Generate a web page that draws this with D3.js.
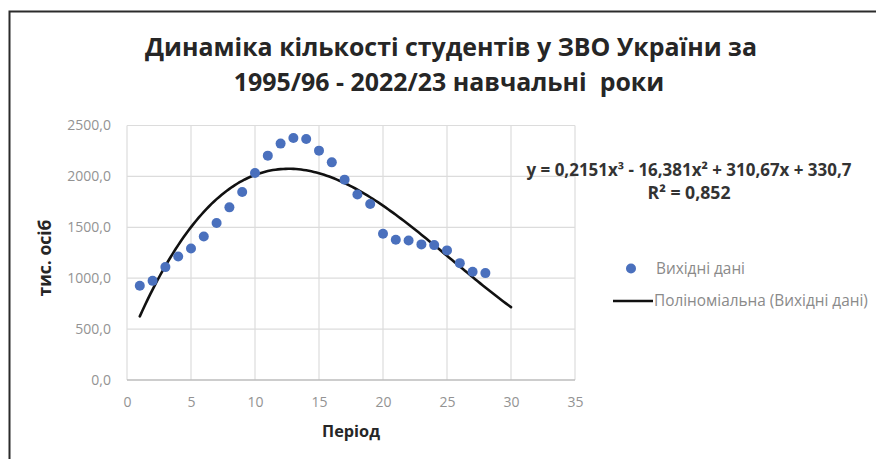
<!DOCTYPE html>
<html>
<head>
<meta charset="utf-8">
<script src="https://cdn.jsdelivr.net/npm/d3@7"></script>
<style>
  html, body { margin: 0; padding: 0; background: #fff; }
  svg { display: block; font-family: "Open Sans", "DejaVu Sans", sans-serif; }
</style>
</head>
<body>
<svg id="chart" width="876" height="459"></svg>
<script>
/* chart data */
var periods = [1, 2, 3, 4, 5, 6, 7, 8, 9, 10, 11, 12, 13, 14, 15, 16, 17, 18, 19, 20, 21, 22, 23, 24, 25, 26, 27, 28];
var students = [925, 974, 1109, 1214, 1292, 1410, 1542, 1696, 1847, 2034, 2204, 2322, 2378, 2368, 2253, 2138,
                1968, 1823, 1729, 1437, 1378, 1371, 1332, 1325, 1273, 1148, 1063, 1050];

// trend coefficients as printed on the chart: c0 + c1*x + c2*x^2 + c3*x^3
var trendCoef = [330.7, 310.67, -16.381, 0.2151];
var trendRange = [1, 30];

var xTicks = [0, 5, 10, 15, 20, 25, 30, 35];
var yTicks = [0, 500, 1000, 1500, 2000, 2500];

var titleLines = ["Динаміка кількості студентів у ЗВО України за", "1995/96 - 2022/23 навчальні  роки"];
var equationLines = ["y = 0,2151x³ - 16,381x² + 310,67x + 330,7", "R² = 0,852"];
var legendLabels = ["Вихідні дані", "Поліноміальна (Вихідні дані)"];
var xTitle = "Період";
var yTitle = "тис. осіб";

var svg = d3.select("#chart");
var x = d3.scaleLinear().domain([0, 35]).range([127, 575]);
var y = d3.scaleLinear().domain([0, 2500]).range([380, 125.5]);

var uaFormat = d3.formatLocale({decimal: ",", thousands: " ", grouping: [3], currency: ["", " грн"]}).format(".1f");

// shrink / grow a text so it spans the measured width of the reference
function fitWidth(sel, target) {
  let w = sel.node().getComputedTextLength();
  let fs = parseFloat(sel.attr("font-size"));
  if (w > 0) sel.attr("font-size", (fs * target / w).toFixed(2));
  return parseFloat(sel.attr("font-size"));
}

function drawFrame() {
  svg.append("rect").attr("width", 876).attr("height", 459).attr("fill", "#fff");
  svg.append("path")
    .attr("d", "M9.5,459V11.5H876")
    .attr("fill", "none")
    .attr("stroke", "#2b2b2b")
    .attr("stroke-width", 2);
}

function drawTitle() {
  // first line sets the size, second line reuses it
  let first = svg.append("text")
    .attr("x", 451).attr("y", 56)
    .attr("text-anchor", "middle")
    .attr("font-size", 24)
    .attr("font-weight", "bold")
    .attr("fill", "#262626")
    .text(titleLines[0]);
  let fs = fitWidth(first, 612);

  svg.append("text")
    .attr("x", 449).attr("y", 91)
    .attr("text-anchor", "middle")
    .attr("font-size", fs)
    .attr("font-weight", "bold")
    .attr("fill", "#262626")
    .attr("xml:space", "preserve")
    .text(titleLines[1]);
}

function drawGrid() {
  let g = svg.append("g").attr("class", "grid");
  g.selectAll("line.h").data(yTicks.filter(d => d > 0)).join("line")
    .attr("class", "h")
    .attr("x1", x(0)).attr("x2", x(35))
    .attr("y1", d => y(d)).attr("y2", d => y(d))
    .attr("stroke", "#dcdcdc").attr("stroke-width", 1.2);
  g.selectAll("line.v").data(xTicks).join("line")
    .attr("class", "v")
    .attr("x1", d => x(d)).attr("x2", d => x(d))
    .attr("y1", y(2500)).attr("y2", y(0))
    .attr("stroke", "#dcdcdc").attr("stroke-width", 1.2);
  // value axis baseline
  g.append("line")
    .attr("x1", x(0)).attr("x2", x(35))
    .attr("y1", y(0)).attr("y2", y(0))
    .attr("stroke", "#bdbdbd").attr("stroke-width", 1.3);
}

function drawAxes() {
  let xAxis = svg.append("g")
    .attr("transform", "translate(0," + y(0) + ")")
    .call(d3.axisBottom(x).tickValues(xTicks).tickSize(0).tickPadding(17));
  let yAxis = svg.append("g")
    .attr("transform", "translate(" + x(0) + ",0)")
    .call(d3.axisLeft(y).tickValues(yTicks).tickSize(0).tickPadding(16).tickFormat(uaFormat));

  [xAxis, yAxis].forEach(a => {
    a.select(".domain").remove();
    a.selectAll("text")
      .attr("font-family", "'Open Sans', sans-serif")
      .attr("font-size", 14)
      .attr("fill", "#939393");
  });

  let xt = svg.append("text")
    .attr("x", 351).attr("y", 437)
    .attr("text-anchor", "middle")
    .attr("font-size", 14).attr("font-weight", "bold")
    .attr("fill", "#262626")
    .text(xTitle);
  fitWidth(xt, 58);

  let yt = svg.append("text")
    .attr("transform", "translate(51,258) rotate(-90)")
    .attr("text-anchor", "middle")
    .attr("font-size", 14).attr("font-weight", "bold")
    .attr("fill", "#262626")
    .text(yTitle);
  fitWidth(yt, 77);
}

function drawSeries() {
  svg.append("g").selectAll("circle")
    .data(periods.map((p, i) => [p, students[i]]))
    .join("circle")
    .attr("cx", d => x(d[0]))
    .attr("cy", d => y(d[1]))
    .attr("r", 5)
    .attr("fill", "#4a70bd");
}

function drawTrend() {
  let poly = t => trendCoef.reduce((s, c, k) => s + c * Math.pow(t, k), 0);
  let xs = d3.range(trendRange[0], trendRange[1] + 0.001, 0.2);
  let line = d3.line().x(t => x(t)).y(t => y(poly(t)));
  svg.append("path")
    .datum(xs)
    .attr("d", line)
    .attr("fill", "none")
    .attr("stroke", "#111")
    .attr("stroke-width", 2.6)
    .attr("stroke-linecap", "round");
}

function drawEquation() {
  let widths = [325, 83];
  let baselines = [176, 199];
  equationLines.forEach((line, i) => {
    let t = svg.append("text")
      .attr("x", 689).attr("y", baselines[i])
      .attr("text-anchor", "middle")
      .attr("font-size", 13).attr("font-weight", "bold")
      .attr("fill", "#333")
      .text(line);
    fitWidth(t, widths[i]);
  });
}

function drawLegend() {
  let g = svg.append("g").attr("class", "legend");
  g.append("circle").attr("cx", 631).attr("cy", 268.5).attr("r", 5).attr("fill", "#4a70bd");
  g.append("line")
    .attr("x1", 613).attr("x2", 653).attr("y1", 301).attr("y2", 301)
    .attr("stroke", "#111").attr("stroke-width", 2.6);

  let starts = [656, 654];
  let widths = [89, 214];
  let baselines = [274, 306];
  legendLabels.forEach((label, i) => {
    let t = g.append("text")
      .attr("x", starts[i]).attr("y", baselines[i])
      .attr("font-size", 13)
      .attr("fill", "#8a8a8a")
      .text(label);
    fitWidth(t, widths[i]);
  });
}

drawFrame();
drawTitle();
drawGrid();
drawAxes();
drawTrend();
drawSeries();
drawEquation();
drawLegend();
</script>
</body>
</html>
